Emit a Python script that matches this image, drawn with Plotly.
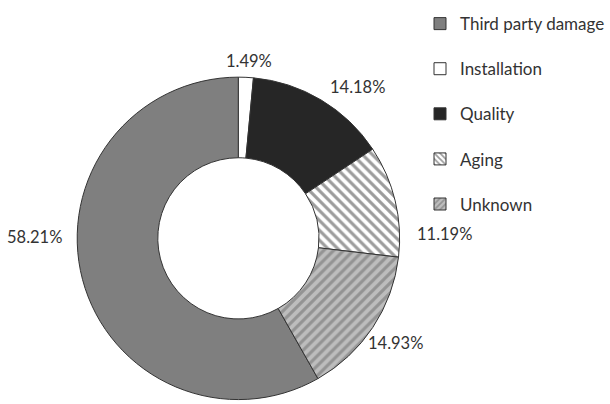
import plotly.graph_objects as go

# Failure causes and their share of incidents (%)
causes = ["Third party damage", "Installation", "Quality", "Aging", "Unknown"]
shares = [58.21, 1.49, 14.18, 11.19, 14.93]

# Fill styles per cause
fill_colors = ["#7f7f7f", "#ffffff", "#262626", "#ffffff", "#bdbdbd"]
pattern_shapes = ["", "", "", "\\", "/"]
pattern_colors = ["#7f7f7f", "#ffffff", "#262626", "#3a3a3a", "#6a6a6a"]

# Where each percentage label sits (paper coords) and how it is anchored
label_pos = [(0.107, 0.413, "right"), (0.375, 0.848, "left"), (0.551, 0.785, "left"),
             (0.696, 0.420, "left"), (0.614, 0.151, "left")]

FONT = "Lato"
TEXT_COLOR = "#333333"

# Third party damage ends at 12 o'clock, so start it that far back (clockwise)
start_angle = 360 - shares[0] / sum(shares) * 360

fig = go.Figure()

fig.add_trace(go.Pie(
    labels=causes,
    values=shares,
    hole=0.5,
    sort=False,
    direction="clockwise",
    rotation=start_angle,
    textinfo="none",
    marker=dict(
        colors=fill_colors,
        line=dict(color="#333333", width=1),
        pattern=dict(
            shape=pattern_shapes,
            fgcolor=pattern_colors,
            bgcolor=fill_colors,
            size=7,
            solidity=0.45,
            fillmode="overlay",
        ),
    ),
    domain=dict(x=[0.1295, 0.6705], y=[0.0, 0.82]),
    showlegend=False,
    hoverinfo="label+percent",
))

# Percentage labels around the ring
for val, (lx, ly, anchor) in zip(shares, label_pos):
    fig.add_annotation(
        x=lx, y=ly, xref="paper", yref="paper",
        text=f"{val:.2f}%", showarrow=False,
        xanchor=anchor, yanchor="middle",
        font=dict(family=FONT, size=16.5, color=TEXT_COLOR),
    )

# Legend entries: one empty bar trace per cause so each row can be spaced apart
for name, fc, shp, pc in zip(causes, fill_colors, pattern_shapes, pattern_colors):
    fig.add_trace(go.Bar(
        x=[None], y=[None],
        name=name,
        legendgroup=name,
        marker=dict(
            color=fc,
            line=dict(color="#333333", width=1),
            pattern=dict(shape=shp, fgcolor=pc, bgcolor=fc, size=5, solidity=0.45,
                         fillmode="overlay"),
        ),
        showlegend=True,
        hoverinfo="skip",
    ))

fig.update_layout(
    width=610,
    height=404,
    margin=dict(l=0, r=0, t=0, b=0),
    paper_bgcolor="white",
    plot_bgcolor="white",
    xaxis=dict(visible=False),
    yaxis=dict(visible=False),
    legend=dict(
        x=0.705, y=0.985, xanchor="left", yanchor="top",
        font=dict(family=FONT, size=17, color=TEXT_COLOR),
        tracegroupgap=20,
        itemwidth=30,
        bgcolor="rgba(0,0,0,0)",
    ),
    font=dict(family=FONT, color=TEXT_COLOR),
)

fig.write_html("out.html")
